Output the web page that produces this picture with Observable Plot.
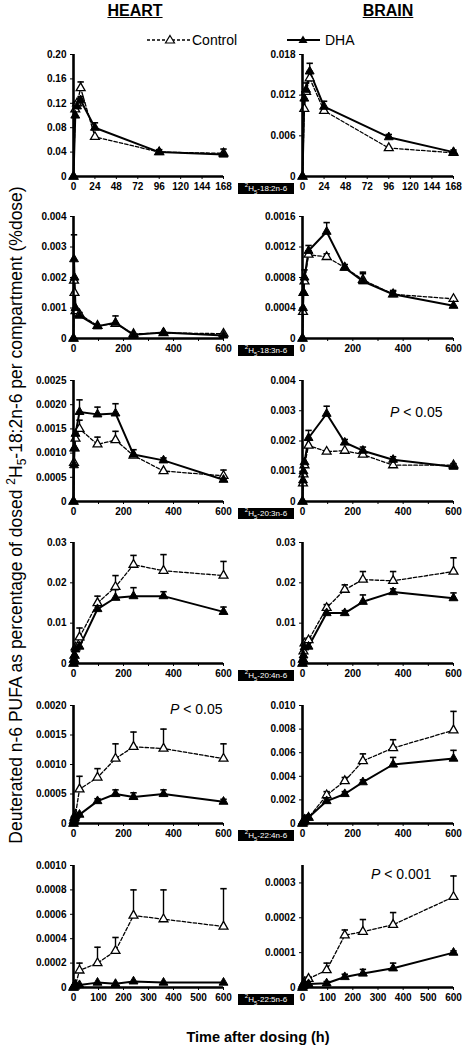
<!DOCTYPE html>
<html><head><meta charset="utf-8">
<script src="https://cdn.jsdelivr.net/npm/d3@7"></script>
<script src="https://cdn.jsdelivr.net/npm/@observablehq/plot@0.6"></script>
<style>
body{margin:0;background:#fff;}
#wrap{position:relative;width:468px;height:1050px;font-family:"Liberation Sans",Arial,sans-serif;overflow:hidden;background:#fff;color:#000}
.abs{position:absolute}
.head{font-weight:bold;font-size:16px;text-decoration:underline;transform:translateX(-50%)}
.box{background:#000;color:#fff;font-size:8px;line-height:11px;height:11px;width:56px;text-align:center;white-space:nowrap}
.box sup,.box sub{font-size:6px;line-height:0}
.pval{font-size:14px;white-space:nowrap}
.ytitle{font-size:17.5px;white-space:nowrap;transform:translate(-50%,-50%) rotate(-90deg);}
.ytitle sup,.ytitle sub{font-size:12px;line-height:0}
.xtitle{font-size:14.5px;font-weight:bold;transform:translateX(-50%);white-space:nowrap}
</style></head><body><div id="wrap"></div>
<script>
// ---------- data ----------
const timesEarly = [0, 2, 4, 8, 24, 96, 168];
const timesLate = [0, 2, 4, 8, 24, 96, 168, 240, 360, 600];

const xTicksEarly = [0, 24, 48, 72, 96, 120, 144, 168];
const xTicksLate = [0, 100, 200, 300, 400, 500, 600];

// row 1: 18:2n-6
const heart182Control = [0, 0.110, 0.120, 0.145, 0.065, 0.040, 0.038];
const heart182ControlErr = [0, 0.010, 0, 0.010, 0, 0, 0];
const heart182Dha = [0, 0.100, 0.115, 0.125, 0.080, 0.040, 0.036];
const heart182DhaErr = [0, 0.010, 0.008, 0.006, 0.008, 0.004, 0.009];
const brain182Control = [0, 0.0100, 0.0125, 0.0145, 0.0097, 0.0042, 0.0035];
const brain182ControlErr = [0, 0.0015, 0, 0.0010, 0, 0, 0];
const brain182Dha = [0, 0.0115, 0.0128, 0.0155, 0.0103, 0.0058, 0.0036];
const brain182DhaErr = [0, 0.0010, 0.0010, 0.0012, 0.0008, 0.0004, 0.0003];

// row 2: 18:3n-6
const heart183Control = [0, 0.0019, 0.0015, 0.0009, 0.0008, 0.00042, 0.00048, 0.00015, 0.00018, 0.00016];
const heart183ControlErr = [0, 0, 0, 0, 0, 0, 0, 0, 0, 0];
const heart183Dha = [0, 0.0026, 0.0020, 0.0010, 0.00075, 0.0004, 0.00052, 0.00012, 0.0002, 0.0001];
const heart183DhaErr = [0, 0.0008, 0, 0, 0.0001, 0, 0.00022, 0, 0, 0.00005];
const brain183Control = [0, 0.00035, 0.0006, 0.00075, 0.0011, 0.00107, 0.00093, 0.00077, 0.00058, 0.00052];
const brain183ControlErr = [0, 0, 0, 0, 0.00005, 0.00004, 0, 0.0001, 0.00005, 0];
const brain183Dha = [0, 0.0004, 0.0006, 0.0008, 0.00115, 0.0014, 0.00093, 0.00075, 0.00058, 0.00043];
const brain183DhaErr = [0, 0, 0, 0.0001, 0.00007, 0.00012, 0.00004, 0.0001, 0.00004, 0];

// row 3: 20:3n-6
const heart203Control = [0, 0.0008, 0.0011, 0.0013, 0.0015, 0.00118, 0.00127, 0.00095, 0.00063, 0.00053];
const heart203ControlErr = [0, 0, 0, 0, 0.00018, 0.00015, 0.00018, 0, 0, 0.00012];
const heart203Dha = [0, 0.00075, 0.0011, 0.0014, 0.00185, 0.0018, 0.00182, 0.00097, 0.00085, 0.00045];
const heart203DhaErr = [0, 0, 0, 0, 0.00025, 0.00015, 0.0002, 0.0001, 0.00005, 0];
const brain203Control = [0, 0.0006, 0.0009, 0.0012, 0.00185, 0.00165, 0.00168, 0.00155, 0.0012, 0.0012];
const brain203ControlErr = [0, 0, 0, 0, 0, 0, 0, 0, 0, 0];
const brain203Dha = [0, 0.0007, 0.0010, 0.0013, 0.0021, 0.0029, 0.00195, 0.00168, 0.00138, 0.00115];
const brain203DhaErr = [0, 0, 0, 0, 0.00025, 0.00025, 0.0001, 0.00012, 0.0001, 0.0001];

// row 4: 20:4n-6
const heart204Control = [0, 0.001, 0.002, 0.004, 0.0065, 0.015, 0.019, 0.0245, 0.023, 0.0218];
const heart204ControlErr = [0, 0, 0, 0, 0.0023, 0.0017, 0.0028, 0.0023, 0.004, 0.0035];
const heart204Dha = [0, 0.001, 0.002, 0.0035, 0.0042, 0.0135, 0.0163, 0.0167, 0.0167, 0.0128];
const heart204DhaErr = [0, 0, 0, 0, 0.001, 0.001, 0.002, 0.0021, 0.0011, 0.0012];
const brain204Control = [0, 0.001, 0.003, 0.005, 0.0058, 0.0138, 0.0183, 0.0208, 0.0205, 0.0228];
const brain204ControlErr = [0, 0, 0, 0, 0.0005, 0.0008, 0.0012, 0.002, 0.0023, 0.0034];
const brain204Dha = [0, 0.001, 0.002, 0.004, 0.0042, 0.0125, 0.0125, 0.0153, 0.0177, 0.0162];
const brain204DhaErr = [0, 0, 0, 0, 0, 0.0008, 0.0006, 0.0017, 0.0008, 0.0013];

// row 5: 22:4n-6
const heart224Control = [0, 0.00005, 0.0001, 0.00015, 0.00058, 0.00078, 0.0011, 0.0013, 0.00127, 0.0011];
const heart224ControlErr = [0, 0, 0, 0, 0.00022, 0.00015, 0.00025, 0.00025, 0.00033, 0.00025];
const heart224Dha = [0, 0.00003, 0.00008, 0.00012, 0.00015, 0.00038, 0.0005, 0.00045, 0.0005, 0.00037];
const heart224DhaErr = [0, 0, 0, 0, 0.00003, 0.00004, 0.00007, 0.00007, 0.00007, 0.00004];
const brain224Control = [0, 0.0001, 0.0002, 0.0003, 0.0005, 0.0024, 0.0036, 0.0053, 0.0064, 0.0079];
const brain224ControlErr = [0, 0, 0, 0, 0.0002, 0.0003, 0.0003, 0.0006, 0.0007, 0.0016];
const brain224Dha = [0, 0.0001, 0.0002, 0.0003, 0.0005, 0.0019, 0.0025, 0.0035, 0.005, 0.0055];
const brain224DhaErr = [0, 0, 0, 0, 0.0002, 0.0003, 0.0002, 0.0002, 0.0006, 0.0007];

// row 6: 22:5n-6
const heart225Control = [0, 0.00001, 0.00001, 0.00002, 0.00014, 0.0002, 0.0003, 0.00059, 0.00056, 0.0005];
const heart225ControlErr = [0, 0, 0, 0, 0.00006, 0.00013, 0.00011, 0.00021, 0.00024, 0.00031];
const heart225Dha = [0, 0.00001, 0.00001, 0.00002, 0.00002, 0.00004, 0.00003, 0.00005, 0.00004, 0.00004];
const heart225DhaErr = [0, 0, 0, 0, 0, 0, 0, 0, 0, 0];
const brain225Control = [0, 0.000005, 0.00001, 0.000015, 0.000025, 0.00005, 0.00015, 0.00016, 0.00018, 0.00026];
const brain225ControlErr = [0, 0, 0, 0, 0.000005, 0.00002, 0.000015, 0.000035, 0.000035, 0.00006];
const brain225Dha = [0, 0.000003, 0.000005, 0.00001, 0.00001, 0.000012, 0.00003, 0.00004, 0.000055, 0.0001];
const brain225DhaErr = [0, 0, 0, 0, 0, 0.000005, 0.000008, 0.000012, 0.000015, 0.000005];

// y tick labels per panel
const heartYLabels = [
  ["0", "0.04", "0.08", "0.12", "0.16", "0.20"],
  ["0", "0.001", "0.002", "0.003", "0.004"],
  ["0", "0.0005", "0.0010", "0.0015", "0.0020", "0.0025"],
  ["0", "0.01", "0.02", "0.03"],
  ["0", "0.0005", "0.0010", "0.0015", "0.0020"],
  ["0", "0.0002", "0.0004", "0.0006", "0.0008", "0.0010"]
];
const brainYLabels = [
  ["0", "0.006", "0.012", "0.018"],
  ["0", "0.0004", "0.0008", "0.0012", "0.0016"],
  ["0", "0.001", "0.002", "0.003", "0.004"],
  ["0", "0.01", "0.02", "0.03"],
  ["0", "0.002", "0.004", "0.006", "0.008", "0.010"],
  ["0", "0.0001", "0.0002", "0.0003"]
];
const heartYMax = [0.20, 0.004, 0.0025, 0.03, 0.0020, 0.0010];
const brainYMax = [0.018, 0.0016, 0.004, 0.03, 0.010, 0.00035];

const fattyAcidLabels = ["18:2n-6", "18:3n-6", "20:3n-6", "20:4n-6", "22:4n-6", "22:5n-6"];
const seriesNames = ["Control", "DHA"];
const pValues = [
  {row: 2, col: "brain", text: "< 0.05"},
  {row: 4, col: "heart", text: "< 0.05"},
  {row: 5, col: "brain", text: "< 0.001"}
];

// ---------- layout ----------
const rowTop = [54, 216, 380, 542, 705, 865];
const rowZero = [176, 338, 501, 663, 823, 987];
const colGeom = {
  heart: {left: 0, width: 235, ml: 73, mr: 12},
  brain: {left: 235, width: 233, ml: 67, mr: 15}
};

const wrap = document.getElementById("wrap");

const heartSets = [
  [heart182Control, heart182ControlErr, heart182Dha, heart182DhaErr],
  [heart183Control, heart183ControlErr, heart183Dha, heart183DhaErr],
  [heart203Control, heart203ControlErr, heart203Dha, heart203DhaErr],
  [heart204Control, heart204ControlErr, heart204Dha, heart204DhaErr],
  [heart224Control, heart224ControlErr, heart224Dha, heart224DhaErr],
  [heart225Control, heart225ControlErr, heart225Dha, heart225DhaErr]
];
const brainSets = [
  [brain182Control, brain182ControlErr, brain182Dha, brain182DhaErr],
  [brain183Control, brain183ControlErr, brain183Dha, brain183DhaErr],
  [brain203Control, brain203ControlErr, brain203Dha, brain203DhaErr],
  [brain204Control, brain204ControlErr, brain204Dha, brain204DhaErr],
  [brain224Control, brain224ControlErr, brain224Dha, brain224DhaErr],
  [brain225Control, brain225ControlErr, brain225Dha, brain225DhaErr]
];

const capSymbol = {draw(ctx) { ctx.moveTo(-3.2, 0); ctx.lineTo(3.2, 0); }};

function makePanel(col, row, sets, yLabels, yMax) {
  const g = colGeom[col];
  const times = row === 0 ? timesEarly : timesLate;
  const xTicks = row === 0 ? xTicksEarly : xTicksLate;
  const xMax = xTicks[xTicks.length - 1];
  const labelAll = row === 0 || row === 5;
  const [c, ce, dv, de] = sets;
  const rows = [];
  times.forEach((t, i) => {
    rows.push({t, v: c[i], e: ce[i], s: seriesNames[0]});
    rows.push({t, v: dv[i], e: de[i], s: seriesNames[1]});
  });
  const ctrl = rows.filter(d => d.s === "Control");
  const dha = rows.filter(d => d.s === "DHA");
  const errs = rows.filter(d => d.e > 0);
  const yTicks = yLabels.map(Number);
  const mt = 8, mb = 24;
  const top = rowTop[row], zero = rowZero[row];
  const chart = Plot.plot({
    width: g.width,
    height: mt + (zero - top) + mb,
    marginLeft: g.ml, marginRight: g.mr, marginTop: mt, marginBottom: mb,
    style: {fontFamily: "'Liberation Sans', Arial, sans-serif", fontSize: "10px", fontWeight: "bold", color: "#000", background: "transparent", overflow: "visible"},
    x: {domain: [0, xMax], ticks: xTicks, tickSize: 3, tickPadding: 3, label: null,
        tickFormat: d => (labelAll || d % 200 === 0) ? String(d) : ""},
    y: {domain: [0, yMax], ticks: yTicks, tickSize: 3, tickPadding: 4, label: null,
        tickFormat: d => yLabels[yTicks.indexOf(d)]},
    marks: [
      Plot.ruleX(errs, {x: "t", y1: "v", y2: d => d.v + d.e, stroke: "#000", strokeWidth: 1.4}),
      Plot.dot(errs, {x: "t", y: d => d.v + d.e, symbol: capSymbol, stroke: "#000", strokeWidth: 1.6}),
      Plot.line(ctrl, {x: "t", y: "v", stroke: "#000", strokeWidth: 1.3, strokeDasharray: "3.5,2"}),
      Plot.line(dha, {x: "t", y: "v", stroke: "#000", strokeWidth: 2}),
      Plot.dot(ctrl, {x: "t", y: "v", symbol: "triangle", r: 3.3, fill: "#fff", stroke: "#000", strokeWidth: 1.3}),
      Plot.dot(dha, {x: "t", y: "v", symbol: "triangle", r: 3.3, fill: "#000", stroke: "#000", strokeWidth: 1}),
      Plot.ruleX([0], {stroke: "#000", strokeWidth: 2.6}),
      Plot.ruleY([0], {stroke: "#000", strokeWidth: 2.6})
    ]
  });
  chart.classList.add("abs");
  chart.style.left = g.left + "px";
  chart.style.top = (top - mt) + "px";
  wrap.appendChild(chart);
}

for (let r = 0; r < 6; r++) {
  makePanel("heart", r, heartSets[r], heartYLabels[r], heartYMax[r]);
  makePanel("brain", r, brainSets[r], brainYLabels[r], brainYMax[r]);
}

// ---------- text & legend ----------
function addDiv(cls, html, left, top) {
  const d = document.createElement("div");
  d.className = "abs " + cls;
  d.innerHTML = html;
  d.style.left = left + "px";
  d.style.top = top + "px";
  wrap.appendChild(d);
  return d;
}
addDiv("head", "HEART", 135, 2);
addDiv("head", "BRAIN", 388, 2);

// legend
const leg = document.createElementNS("http://www.w3.org/2000/svg", "svg");
leg.setAttribute("width", 468); leg.setAttribute("height", 20);
leg.setAttribute("class", "abs");
leg.style.left = "0px"; leg.style.top = "30px";
leg.innerHTML = `
<line x1="147" x2="190" y1="10" y2="10" stroke="#000" stroke-width="1.3" stroke-dasharray="3,2"/>
<path d="M170,5.5 L174.5,13 L165.5,13 Z" fill="#fff" stroke="#000" stroke-width="1.2"/>
<text x="192" y="15" font-size="14" font-family="Liberation Sans, Arial, sans-serif">${seriesNames[0]}</text>
<line x1="287" x2="320" y1="10" y2="10" stroke="#000" stroke-width="2"/>
<path d="M303,5.5 L307.5,13 L298.5,13 Z" fill="#000"/>
<text x="325" y="15" font-size="14" font-family="Liberation Sans, Arial, sans-serif">${seriesNames[1]}</text>`;
wrap.appendChild(leg);

// fatty acid boxes
fattyAcidLabels.forEach((fa, r) => {
  addDiv("box", "<sup>2</sup>H<sub>5</sub>-" + fa, 238, rowZero[r] + 7);
});

// p values
pValues.forEach(p => {
  const left = p.col === "heart" ? 170 : (p.row === 5 ? 371 : 390);
  const topY = p.row === 2 ? 404 : (p.row === 4 ? 701 : 866);
  addDiv("pval", "<i>P</i> " + p.text, left, topY);
});

// axis titles
addDiv("ytitle", "Deuterated n-6 PUFA as percentage of dosed <sup>2</sup>H<sub>5</sub>-18:2n-6 per compartment (%dose)", 16, 515);
addDiv("xtitle", "Time after dosing (h)", 258, 1029);
</script>
</body></html>
